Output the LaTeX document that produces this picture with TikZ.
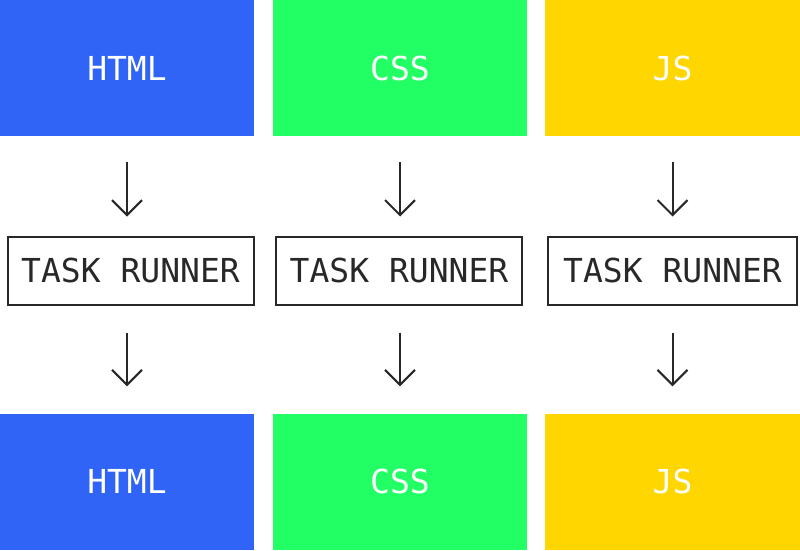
\documentclass[tikz,border=0pt]{standalone}
\usepackage{fontspec}
\setmonofont{DejaVu Sans Mono}
\usetikzlibrary{arrows.meta}
\definecolor{htmlblue}{RGB}{47,100,246}
\definecolor{cssgreen}{RGB}{34,255,100}
\definecolor{jsyellow}{RGB}{255,214,0}
\definecolor{ink}{RGB}{40,40,40}
\begin{document}
\begin{tikzpicture}[x=1pt,y=-1pt,
  colbox/.style={rectangle, inner sep=0pt, minimum width=254pt, minimum height=136pt,
    text=white, font=\fontsize{33}{33}\selectfont\ttfamily},
  runner/.style={rectangle, draw=ink, line width=2pt, inner sep=0pt,
    minimum width=246pt, minimum height=68pt, text=ink,
    font=\fontsize{33}{33}\selectfont\ttfamily},
  flow/.style={draw=ink, line width=2pt,
    -{Straight Barb[length=15pt,width=30pt,line width=2pt]}}]
\useasboundingbox (0,0) rectangle (800,551);
\fill[white] (0,0) rectangle (800,551);
% source files
\node[colbox, fill=htmlblue] (h1) at (127,68) {HTML};
\node[colbox, fill=cssgreen] (c1) at (400,68) {CSS};
\node[colbox, fill=jsyellow, minimum width=255pt] (j1) at (672.5,68) {JS};
% task runners
\node[runner] (t1) at (130.5,270.5) {TASK RUNNER};
\node[runner] (t2) at (399,270.5) {TASK RUNNER};
\node[runner, minimum width=249pt] (t3) at (672.5,270.5) {TASK RUNNER};
% output files
\node[colbox, fill=htmlblue] (h2) at (127,481.5) {HTML};
\node[colbox, fill=cssgreen] (c2) at (400,481.5) {CSS};
\node[colbox, fill=jsyellow, minimum width=255pt] (j2) at (672.5,481.5) {JS};
% arrows into the runners
\draw[flow, shorten <=26pt, shorten >=19pt] (h1.south) -- (h1.south |- t1.north);
\draw[flow, shorten <=26pt, shorten >=19pt] (c1.south) -- (c1.south |- t2.north);
\draw[flow, shorten <=26pt, shorten >=19pt] (j1.south) -- (j1.south |- t3.north);
% arrows out of the runners
\draw[flow, shorten <=27pt, shorten >=27pt] (h1.south |- t1.south) -- (h2.north);
\draw[flow, shorten <=27pt, shorten >=27pt] (c1.south |- t2.south) -- (c2.north);
\draw[flow, shorten <=27pt, shorten >=27pt] (j1.south |- t3.south) -- (j2.north);
\end{tikzpicture}
\end{document}
